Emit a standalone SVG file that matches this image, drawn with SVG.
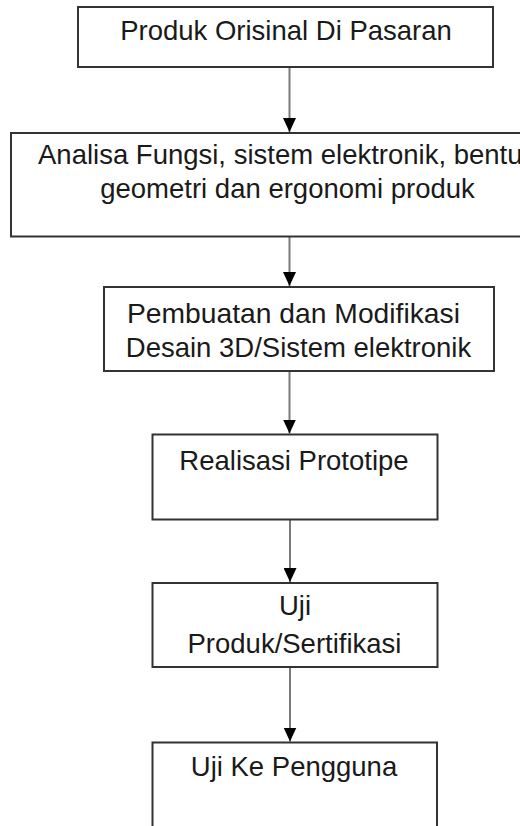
<svg xmlns="http://www.w3.org/2000/svg" width="520" height="826" viewBox="0 0 520 826">
<style>
.box{fill:#ffffff;stroke:#333333;stroke-width:2}
.lbl{font-family:"Liberation Sans",Arial,sans-serif;font-size:27.5px;fill:#1a1a1a;text-anchor:middle}
.conn{stroke:#7a7a7a;stroke-width:2;fill:none}
</style>
<defs>
<marker id="arr" viewBox="0 0 14 13" markerWidth="14" markerHeight="13" refX="14" refY="6.5" orient="auto" markerUnits="userSpaceOnUse">
<path d="M0,0 L14,6.5 L0,13 z" fill="#000000"/>
</marker>
</defs>
<rect width="520" height="826" fill="#ffffff"/>
<g id="connectors">
<line class="conn" x1="289.5" y1="67" x2="289.5" y2="132" marker-end="url(#arr)"/>
<line class="conn" x1="289.5" y1="237" x2="289.5" y2="286" marker-end="url(#arr)"/>
<line class="conn" x1="289.5" y1="371" x2="289.5" y2="433.5" marker-end="url(#arr)"/>
<line class="conn" x1="290" y1="519.5" x2="290" y2="582" marker-end="url(#arr)"/>
<line class="conn" x1="290" y1="667" x2="290" y2="741.5" marker-end="url(#arr)"/>
</g>
<g id="n1">
<rect class="box" x="78" y="7" width="415" height="60"/>
<text class="lbl" x="286" y="40">Produk Orisinal Di Pasaran</text>
</g>
<g id="n2">
<path class="box" d="M520,133 H11 V236.5 H520"/>
<text class="lbl" x="38" y="164" style="text-anchor:start">Analisa Fungsi, sistem elektronik, bentu</text>
<text class="lbl" x="287.5" y="198">geometri dan ergonomi produk</text>
</g>
<g id="n3">
<rect class="box" x="104" y="287" width="390" height="84"/>
<text class="lbl" x="127" y="323" style="text-anchor:start" textLength="333" lengthAdjust="spacingAndGlyphs">Pembuatan dan Modifikasi</text>
<text class="lbl" x="298.5" y="357">Desain 3D/Sistem elektronik</text>
</g>
<g id="n4">
<rect class="box" x="152.5" y="434.5" width="285" height="85"/>
<text class="lbl" x="294" y="470">Realisasi Prototipe</text>
</g>
<g id="n5">
<rect class="box" x="152.5" y="583" width="285" height="84"/>
<text class="lbl" x="295" y="615">Uji</text>
<text class="lbl" x="294.5" y="653">Produk/Sertifikasi</text>
</g>
<g id="n6">
<path class="box" d="M152.5,826 V742.5 H437 V826"/>
<text class="lbl" x="294" y="776">Uji Ke Pengguna</text>
</g>
</svg>
